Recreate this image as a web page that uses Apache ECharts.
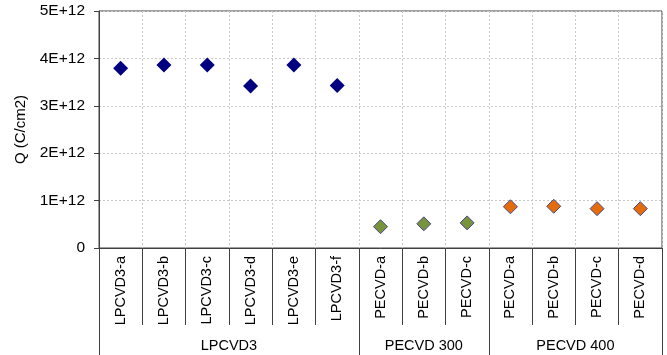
<!DOCTYPE html>
<html>
<head>
<meta charset="utf-8">
<title>Q (C/cm2)</title>
<script src="https://cdn.jsdelivr.net/npm/echarts@6/dist/echarts.min.js"></script>
<style>
  html, body { margin: 0; padding: 0; background: #fff; }
  #chart { width: 667px; height: 355px; }
</style>
</head>
<body>
<div id="chart"></div>
<script>
// Sample names along the x axis, grouped by deposition process
const categories = [
  'LPCVD3-a', 'LPCVD3-b', 'LPCVD3-c', 'LPCVD3-d', 'LPCVD3-e', 'LPCVD3-f',
  'PECVD-a', 'PECVD-b', 'PECVD-c',
  'PECVD-a', 'PECVD-b', 'PECVD-c', 'PECVD-d'
];
const groupNames = ['LPCVD3', 'PECVD 300', 'PECVD 400'];
const groupSizes = [6, 3, 4];

// Charge density Q (C/cm2) per sample
const lpcvd3Q = [3.79e12, 3.86e12, 3.86e12, 3.42e12, 3.86e12, 3.43e12];
const pecvd300Q = [0.45e12, 0.51e12, 0.53e12];
const pecvd400Q = [0.87e12, 0.88e12, 0.83e12, 0.83e12];

// y axis ticks
const yMin = 0, yMax = 5e12, yStep = 1e12;

// Place each group's values at its own category slots
function placeGroup(values, groupIndex) {
  const start = groupSizes.slice(0, groupIndex).reduce((a, b) => a + b, 0);
  return categories.map((c, i) =>
    (i >= start && i < start + values.length) ? values[i - start] : '-');
}

// Group boundaries and centres for the second-level axis
const boundaries = [0];
groupSizes.forEach(n => boundaries.push(boundaries[boundaries.length - 1] + n));
const centres = groupSizes.map((n, i) => boundaries[i] + n / 2);

const axisColor = '#404040';
const gridColor = '#c8c8c8';
const font = 'Liberation Sans, Arial, sans-serif';

const chart = echarts.init(document.getElementById('chart'), null, { renderer: 'canvas' });
chart.setOption({
  animation: false,
  backgroundColor: '#ffffff',
  grid: {
    left: 99, right: 5, top: 11, bottom: 107,
    show: true, borderColor: axisColor, borderWidth: 1,
    containLabel: false
  },
  xAxis: [
    {
      type: 'category',
      data: categories,
      boundaryGap: true,
      position: 'bottom',
      axisLine: { show: true, lineStyle: { color: axisColor, width: 1 } },
      axisTick: { show: true, interval: 0, length: 77, lineStyle: { color: axisColor, width: 1 } },
      axisLabel: {
        interval: 0, rotate: 90, margin: 8,
        color: '#000', fontFamily: font, fontSize: 14.5
      },
      splitLine: {
        show: true, interval: 0,
        lineStyle: { color: gridColor, type: [2, 2], width: 1 }
      }
    },
    {
      type: 'value',
      min: 0, max: categories.length,
      position: 'bottom',
      axisLine: { show: false },
      axisTick: {
        show: true, length: 107, customValues: boundaries,
        lineStyle: { color: axisColor, width: 1 }
      },
      axisLabel: {
        show: true, customValues: centres, margin: 90,
        color: '#000', fontFamily: font, fontSize: 14.5,
        formatter: v => groupNames[centres.indexOf(v)] || ''
      },
      splitLine: { show: false }
    }
  ],
  yAxis: {
    type: 'value',
    min: yMin, max: yMax, interval: yStep,
    name: 'Q (C/cm2)',
    nameLocation: 'middle',
    nameRotate: 90,
    nameGap: 69,
    nameTextStyle: { color: '#000', fontFamily: font, fontSize: 15 },
    axisLine: { show: true, lineStyle: { color: axisColor, width: 1 } },
    axisTick: { show: true, inside: false, length: 5, lineStyle: { color: axisColor } },
    axisLabel: {
      margin: 14, color: '#000', fontFamily: font, fontSize: 15.5,
      formatter: v => v === 0 ? '0' : (v / 1e12) + 'E+12'
    },
    splitLine: { show: true, lineStyle: { color: gridColor, type: [2, 2], width: 1 } }
  },
  series: [
    {
      name: 'LPCVD3', type: 'scatter', xAxisIndex: 0,
      data: placeGroup(lpcvd3Q, 0),
      symbol: 'diamond', symbolSize: 15,
      itemStyle: { color: '#000080', opacity: 1 }
    },
    {
      name: 'PECVD 300', type: 'scatter', xAxisIndex: 0,
      data: placeGroup(pecvd300Q, 1),
      symbol: 'diamond', symbolSize: 14,
      itemStyle: { color: '#77933c', borderColor: '#4a4a90', borderWidth: 1, opacity: 1 }
    },
    {
      name: 'PECVD 400', type: 'scatter', xAxisIndex: 0,
      data: placeGroup(pecvd400Q, 2),
      symbol: 'diamond', symbolSize: 14,
      itemStyle: { color: '#e46c0a', borderColor: '#4a4a90', borderWidth: 1, opacity: 1 }
    }
  ]
});
</script>
</body>
</html>
